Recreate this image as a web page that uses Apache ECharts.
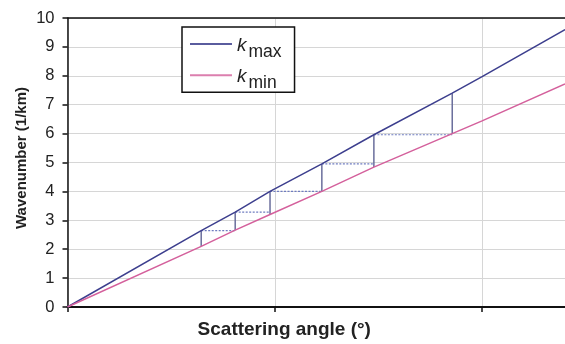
<!DOCTYPE html>
<html><head><meta charset="utf-8">
<script src="https://cdn.jsdelivr.net/npm/echarts@6/dist/echarts.min.js"></script>
<style>html,body{margin:0;padding:0;background:#fff}#c{width:565px;height:344px}</style>
</head><body><div id="c"></div>
<script>
// Scattering angle positions (axis units, one gridline per unit)
const angles = [0, 0.645, 0.809, 0.977, 1.227, 1.478, 1.856, 2.0, 2.4];
const kmaxValues = [0, 2.64, 3.28, 4.0, 4.95, 5.96, 7.4, 7.97, 9.6];
const kminValues = [0, 2.1, 2.66, 3.2, 4.0, 4.84, 6.0, 6.44, 7.72];
// staircase construction
const stepX = [0.645, 0.809, 0.977, 1.227, 1.478, 1.856];
const stepLow = [2.1, 2.66, 3.2, 4.0, 4.84, 6.0];
const stepHigh = [2.64, 3.28, 4.0, 4.95, 5.96, 7.4];
const yTicks = [0,1,2,3,4,5,6,7,8,9,10];

const FONT = '"Liberation Sans", Arial, sans-serif';
const chart = echarts.init(document.getElementById('c'), null, {renderer:'canvas'});

const series = [
  {name:'kmax', type:'line', symbol:'none', data: angles.map((x,i)=>[x,kmaxValues[i]]),
   lineStyle:{color:'#3d3f8e', width:1.5}, itemStyle:{color:'#3d3f8e'}, z:5},
  {name:'kmin', type:'line', symbol:'none', data: angles.map((x,i)=>[x,kminValues[i]]),
   lineStyle:{color:'#d4609c', width:1.5}, itemStyle:{color:'#d4609c'}, z:5}
];
for (let i=0;i<stepX.length;i++){
  series.push({name:'v'+i, type:'line', symbol:'none', silent:true, z:4,
    data:[[stepX[i],stepLow[i]],[stepX[i],stepHigh[i]]],
    lineStyle:{color:'#6a6e9c', width:1.5}});
  if (i<stepX.length-1){
    series.push({name:'h'+i, type:'line', symbol:'none', silent:true, z:4,
      data:[[stepX[i],stepHigh[i]],[stepX[i+1],stepHigh[i]]],
      lineStyle:{color:'#6f7cc0', width:1.2, type:[2,1.5]}});
  }
}

// legend key: thin bar at the top of an 11px tall box (lifts the line above text centre)
const keyIcon = 'path://M0,0L42,0L42,2L0,2Z M0,11L0.01,11L0.01,11.01Z';

chart.setOption({
  animation:false,
  backgroundColor:'#fff',
  grid:{left:67.5, right:-2, top:18, bottom:34.5, containLabel:false},
  legend:{
    data:[{name:'kmax', icon:keyIcon, itemStyle:{color:'#5a5c9e'}},{name:'kmin', icon:keyIcon, itemStyle:{color:'#dc7fae'}}],
    orient:'vertical', left:182, top:27,
    backgroundColor:'#fff', borderColor:'#111', borderWidth:1.5, borderRadius:0,
    padding:[9,13,0,8], itemWidth:42, itemHeight:11, itemGap:6.3,
    formatter:function(n){return n==='kmax' ? '{k|k}{s|max}' : '{k|k}{s|min}';},
    textStyle:{fontFamily:FONT, color:'#222', lineHeight:25,
      rich:{k:{fontSize:19, fontStyle:'italic', fontFamily:FONT, color:'#222', lineHeight:25, verticalAlign:'top'},
            s:{fontSize:17.5, fontFamily:FONT, color:'#222', lineHeight:25, verticalAlign:'bottom', padding:[0,0,0,2]}}}
  },
  xAxis:[{
    type:'value', min:0, max:2.4, interval:1,
    name:'Scattering angle (°)', nameLocation:'middle', nameGap:13, nameMoveOverlap:false,
    nameTextStyle:{fontFamily:FONT, fontWeight:'bold', fontSize:19, color:'#222', padding:[0,64,0,0]},
    axisLine:{show:true, onZero:false, lineStyle:{color:'#111', width:2}},
    axisTick:{show:true, length:5, inside:false, lineStyle:{color:'#111', width:1.5}, customValues:[0,1,2]},
    axisLabel:{show:false},
    splitLine:{show:true, lineStyle:{color:'#d6d6d6', width:1}}
  },{
    type:'value', position:'top', min:0, max:2.4,
    axisLine:{show:true, onZero:false, lineStyle:{color:'#111', width:1.5}},
    axisTick:{show:false}, axisLabel:{show:false}, splitLine:{show:false}
  }],
  yAxis:{
    type:'value', min:0, max:10, interval:1,
    name:'Wavenumber (1/km)', nameLocation:'middle', nameGap:38.5, nameMoveOverlap:false,
    nameTextStyle:{fontFamily:FONT, fontWeight:'bold', fontSize:15, color:'#222', padding:[0,0,0,9]},
    axisLine:{show:true, onZero:false, lineStyle:{color:'#111', width:1.5}},
    axisTick:{show:true, length:5, lineStyle:{color:'#111', width:1.5}},
    axisLabel:{fontFamily:FONT, fontSize:16.5, color:'#222', margin:13,
      formatter:function(v){return yTicks.indexOf(v)>=0 ? String(v) : '';}},
    splitLine:{show:true, lineStyle:{color:'#d6d6d6', width:1}}
  },
  series:series
});
</script></body></html>
